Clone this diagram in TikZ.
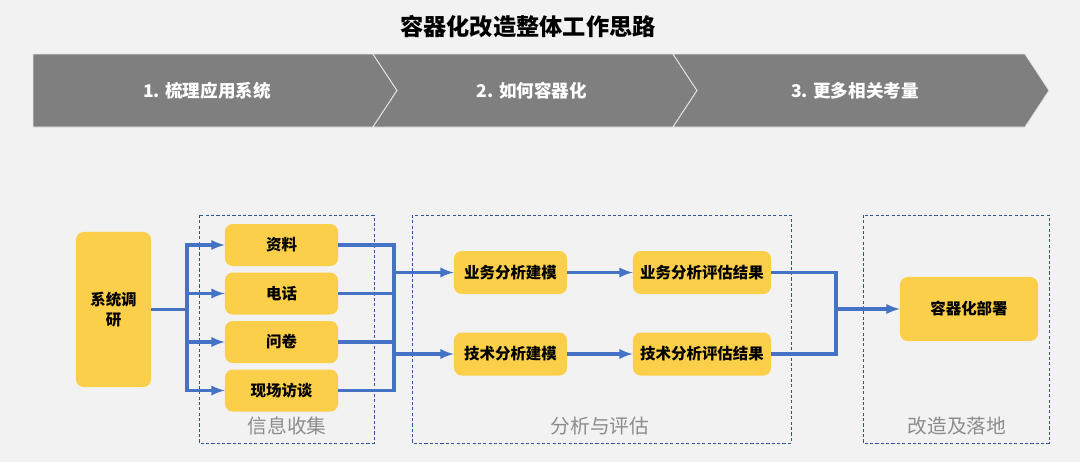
\documentclass[tikz,border=0pt]{standalone}
\usepackage{fontspec}
\setmainfont{Noto Sans CJK SC}
\usepackage{xcolor}
\usetikzlibrary{arrows}
\usetikzlibrary{math}
\definecolor{mygray}{RGB}{127,127,127}
\definecolor{myyellow}{RGB}{252,207,74}
\definecolor{myblue}{RGB}{68,114,196}
\definecolor{mynavy}{RGB}{47,85,151}
\definecolor{mybg}{RGB}{242,242,242}
\definecolor{mylabel}{RGB}{140,140,140}

\tikzset{
  task/.style={fill=myyellow, rounded corners=5.5pt, inner sep=0pt, align=center, font=\bfseries\fontsize{11}{14}\selectfont},
  flow/.style={-latex, line width=2.2pt, draw=myblue},
  link/.style={line width=2.2pt, draw=myblue},
  group/.style={draw=mynavy, dash pattern=on 2.2pt off 1.6pt, line width=0.6pt},
  grouplabel/.style={text=mylabel, font=\fontsize{14}{16}\selectfont},
  phase/.style={fill=mygray, draw=white!80!mygray, line width=0.6pt},
  phaselabel/.style={text=white, font=\bfseries\fontsize{12.5}{15}\selectfont},
}

\begin{document}
\begin{tikzpicture}[x=0.025cm, y=-0.025cm]
\tikzmath{
\yT=54;
\yB=127;
\yM=90.5;
\tp=24;
\busA=187;
\busB=394;
\busC=836;
}
\fill[mybg] (0,0) rectangle (1080,462);
\useasboundingbox (0,0) rectangle (1080,462);

%The title:
\node[font=\bfseries\fontsize{16.5}{19}\selectfont] (title) at (528,27) {容器化改造整体工作思路};

%The phases:
\draw[phase] (33,\yT) -- (373,\yT) -- (373+\tp,\yM) -- (373,\yB) -- (33,\yB) -- cycle;
\draw[phase] (373,\yT) -- (673,\yT) -- (673+\tp,\yM) -- (673,\yB) -- (373,\yB) -- (373+\tp,\yM) -- cycle;
\draw[phase] (673,\yT) -- (1025,\yT) -- (1025+\tp,\yM) -- (1025,\yB) -- (673,\yB) -- (673+\tp,\yM) -- cycle;
\node[phaselabel] (phase1) at (207,\yM) {1. 梳理应用系统};
\node[phaselabel] (phase2) at (532,\yM) {2. 如何容器化};
\node[phaselabel] (phase3) at (855,\yM) {3. 更多相关考量};

%The groups:
\draw[group] (199,215) rectangle (374,443);
\draw[group] (412,215) rectangle (791,443);
\draw[group] (863,215) rectangle (1049,443);
\node[grouplabel] (collect) at (287,426) {信息收集};
\node[grouplabel] (analyse) at (600,426) {分析与评估};
\node[grouplabel] (land) at (957,426) {改造及落地};

%The tasks:
\node[task, minimum width=1.875cm, minimum height=3.875cm] (survey) at (113.5,309.5) {系统调\\研};
\node[task, minimum width=2.825cm, minimum height=1.05cm] (docs) at (281.5,245) {资料};
\node[task, minimum width=2.825cm, minimum height=1.05cm] (phone) at (281.5,293.5) {电话};
\node[task, minimum width=2.825cm, minimum height=1.05cm] (quest) at (281.5,342) {问卷};
\node[task, minimum width=2.825cm, minimum height=1.05cm] (visit) at (281.5,390.5) {现场访谈};
\node[task, minimum width=2.825cm, minimum height=1.075cm] (bizmodel) at (510.5,272.5) {业务分析建模};
\node[task, minimum width=2.825cm, minimum height=1.075cm] (techmodel) at (510.5,354) {技术分析建模};
\node[task, minimum width=3.45cm, minimum height=1.075cm] (bizresult) at (702,272.5) {业务分析评估结果};
\node[task, minimum width=3.45cm, minimum height=1.075cm] (techresult) at (702,354) {技术分析评估结果};
\node[task, minimum width=3.45cm, minimum height=1.6cm] (deploy) at (969,309) {容器化部署};

%The connectors:
\coordinate (fanout) at (\busA,309.5);
\coordinate (mergeA) at (\busB,272.5);
\coordinate (mergeB) at (\busB,354);
\coordinate (mergeC) at (\busC,309);

\draw[flow] (survey.east) -- (fanout) |- (docs);
\draw[flow] (fanout) |- (phone);
\draw[flow] (fanout) |- (quest);
\draw[flow] (fanout) |- (visit);

\draw[link] (docs.east) -| (mergeA);
\draw[link] (phone.east) -| (mergeA);
\draw[link] (quest.east) -| (mergeA);
\draw[link] (visit.east) -| (mergeA);
\draw[flow] (mergeA) -- (bizmodel);
\draw[flow] (mergeB) -- (techmodel);

\draw[flow] (bizmodel) -- (bizresult);
\draw[flow] (techmodel) -- (techresult);

\draw[link] (bizresult.east) -| (mergeC);
\draw[link] (techresult.east) -| (mergeC);
\draw[flow] (mergeC) -- (deploy);

\end{tikzpicture}
\end{document}
